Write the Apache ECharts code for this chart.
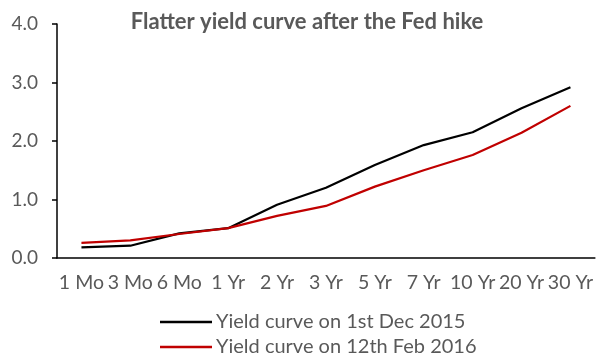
<!DOCTYPE html>
<html><head><meta charset="utf-8">
<script src="https://cdn.jsdelivr.net/npm/echarts@6/dist/echarts.min.js"></script>
<style>html,body{margin:0;padding:0;background:#fff}#c{width:596px;height:356px}</style>
</head><body><div id="c"></div>
<script>
const categories = ['1 Mo','3 Mo','6 Mo','1 Yr','2 Yr','3 Yr','5 Yr','7 Yr','10 Yr','20 Yr','30 Yr'];
const dec2015 = [0.18,0.21,0.42,0.51,0.91,1.20,1.59,1.93,2.15,2.56,2.92];
const feb2016 = [0.26,0.30,0.41,0.51,0.72,0.89,1.22,1.50,1.76,2.14,2.60];
const seriesNames = ['Yield curve on 1st Dec 2015','Yield curve on 12th Feb 2016'];
const font = 'Lato, "Open Sans", sans-serif';
const legendBase = {orient:'horizontal',left:160,padding:0,itemWidth:52,itemHeight:2.5,itemGap:4,icon:'rect',
  textStyle:{fontFamily:font,fontSize:20,color:'#595959',padding:[0,0,0,-1]}};
const chart = echarts.init(document.getElementById('c'));
chart.setOption({
  animation:false,
  title:{text:'Flatter yield curve after the Fed hike',left:307,top:11,textAlign:'center',padding:0,
    textStyle:{fontFamily:font,fontWeight:'bold',fontSize:22,color:'#595959'}},
  grid:{left:57,right:0,top:24,bottom:98},
  xAxis:{type:'category',data:categories,boundaryGap:true,
    axisLine:{lineStyle:{color:'#000',width:1.5}},axisTick:{show:false},
    axisLabel:{fontFamily:font,fontSize:19.5,color:'#595959',margin:15,interval:0}},
  yAxis:{type:'value',min:0,max:4,interval:1,
    axisLine:{show:true,lineStyle:{color:'#000',width:1.5}},
    axisTick:{show:true,inside:false,length:5,lineStyle:{color:'#000',width:1.5}},
    splitLine:{show:false},
    axisLabel:{fontFamily:font,fontSize:19,color:'#595959',margin:19,formatter:v=>v.toFixed(1)}},
  legend:[
    Object.assign({}, legendBase, {top:312, data:[seriesNames[0]]}),
    Object.assign({}, legendBase, {top:337, data:[seriesNames[1]]})
  ],
  series:[
    {name:seriesNames[0],type:'line',data:dec2015,symbol:'none',lineStyle:{color:'#000',width:2.2},itemStyle:{color:'#000'}},
    {name:seriesNames[1],type:'line',data:feb2016,symbol:'none',lineStyle:{color:'#c00000',width:2.2},itemStyle:{color:'#c00000'}}
  ]
});
</script></body></html>
